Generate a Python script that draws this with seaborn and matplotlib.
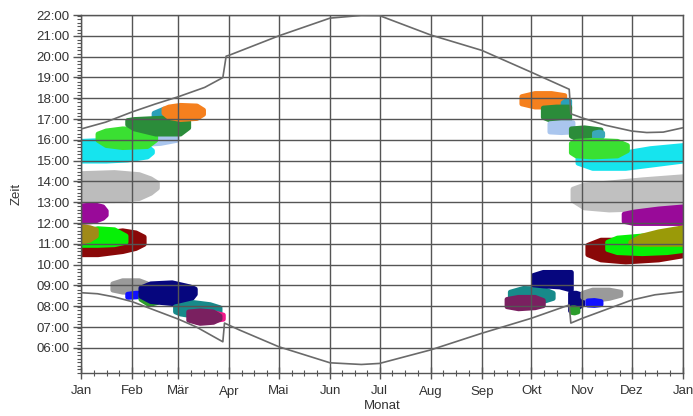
import matplotlib
matplotlib.use("Agg")
import matplotlib.pyplot as plt
import seaborn as sns
import pandas as pd

# ---------------- data ----------------
MONTH_LABELS = ["Jan", "Feb", "Mär", "Apr", "Mai", "Jun", "Jul", "Aug", "Sep",
                "Okt", "Nov", "Dez", "Jan"]
MONTH_DAYS = [0, 31, 59, 90, 120, 151, 181, 212, 243, 273, 304, 334, 365]
HOUR_TICKS = list(range(6, 23))

SUNSET_DAYS = [0, 15, 31, 45, 59, 75, 86, 88, 90, 120, 151, 170, 181, 212, 243,
               273, 296, 297, 304, 318, 334, 343, 353, 365]
SUNSET_HOURS = [16.52, 16.85, 17.34, 17.72, 18.07, 18.52, 18.99, 20.02, 20.07,
                21.0, 21.85, 21.98, 21.97, 21.04, 20.3, 19.25, 18.43, 17.25,
                17.05, 16.7, 16.42, 16.35, 16.37, 16.58]

SUNRISE_DAYS = [0, 10, 20, 31, 45, 59, 70, 86, 87, 96, 120, 151, 170, 181, 212,
                243, 273, 296, 297, 304, 334, 348, 365]
SUNRISE_HOURS = [8.65, 8.6, 8.45, 8.22, 7.8, 7.38, 7.0, 6.29, 7.19, 6.86, 6.05,
                 5.28, 5.2, 5.25, 5.9, 6.7, 7.42, 8.06, 7.19, 7.42, 8.3, 8.55,
                 8.7]

# shadow periods per receptor (drawn in this order)
BLOB_COLORS = [
    # left, afternoon
    "#16e4ee", "#aac6ee", "#3ae032", "#2aa0b8", "#2b8c3a", "#f5801e",
    # left, midday
    "#bcbcbc", "#990a99", "#8a0808", "#06f006", "#a08a18",
    # left, morning
    "#9a9a9a", "#1010ff", "#2c9c2c", "#06067e", "#178a8a", "#f0188a", "#7a2060",
    # right, afternoon
    "#16e4ee", "#f5801e", "#2aa0b8", "#2b8c3a", "#aac6ee", "#2b8c3a",
    "#3aa8b8", "#3ae032",
    # right, midday
    "#c0c0c0", "#990a99", "#8a0808", "#06f006", "#9a9a08",
    # right, morning
    "#178a8a", "#7a2060", "#06067e", "#06067e", "#9a9a9a", "#1010ff",
    "#2c9c2c",
]
BLOB_DAYS = [
    [0, 15, 28, 40, 43],
    [38, 48, 58],
    [10, 15, 25, 40, 45],
    [44, 50, 56],
    [28, 32, 45, 60, 65],
    [50, 53, 60, 70, 74],
    [0, 20, 35, 42, 46],
    [0, 8, 13, 15],
    [0, 10, 25, 33, 38],
    [0, 10, 20, 27],
    [0, 5, 9],
    [19, 25, 35, 40],
    [28, 33, 37],
    [36, 41, 46],
    [36, 42, 55, 66, 69],
    [57, 60, 68, 78, 84],
    [70, 78, 86],
    [65, 72, 80, 84],
    [301, 310, 330, 345, 365],
    [267, 275, 285, 293],
    [292, 294, 296],
    [280, 288, 296],
    [284, 291, 298],
    [297, 305, 315],
    [311, 314, 316],
    [297, 300, 310, 325, 331],
    [298, 305, 320, 340, 365],
    [329, 335, 350, 365],
    [307, 315, 330, 350, 365],
    [319, 325, 340, 355, 365],
    [333, 340, 350, 365],
    [260, 268, 280, 286],
    [258, 265, 275, 280],
    [274, 280, 290, 297],
    [296.5, 300, 304],
    [304, 310, 320, 327],
    [307, 311, 315],
    [297.5, 299, 301],
]
BLOB_LOW = [
    [15.0, 15.0, 15.05, 15.2, 15.4],
    [15.8, 15.85, 16.0],
    [16.0, 15.75, 15.65, 15.7, 16.0],
    [16.9, 16.9, 17.0],
    [16.75, 16.55, 16.3, 16.3, 16.6],
    [17.3, 17.1, 17.0, 17.05, 17.25],
    [13.1, 13.1, 13.2, 13.45, 13.7],
    [12.05, 12.1, 12.25, 12.4],
    [10.5, 10.5, 10.65, 10.8, 11.0],
    [10.95, 10.95, 10.98, 11.1],
    [11.1, 11.2, 11.4],
    [8.8, 8.7, 8.7, 8.8],
    [8.45, 8.47, 8.5],
    [8.35, 8.1, 8.2],
    [8.5, 8.25, 8.15, 8.3, 8.6],
    [7.75, 7.65, 7.55, 7.55, 7.7],
    [7.25, 7.3, 7.4],
    [7.35, 7.2, 7.25, 7.4],
    [14.9, 14.65, 14.65, 14.8, 15.0],
    [17.75, 17.6, 17.6, 17.7],
    [17.5, 17.5, 17.5],
    [17.1, 16.85, 16.8],
    [16.4, 16.37, 16.4],
    [16.2, 15.9, 15.95],
    [16.1, 16.1, 16.2],
    [15.4, 15.25, 15.2, 15.25, 15.5],
    [13.1, 12.75, 12.65, 12.7, 12.75],
    [12.1, 12.0, 12.0, 12.0],
    [10.5, 10.25, 10.15, 10.25, 10.45],
    [10.75, 10.6, 10.55, 10.6, 10.7],
    [11.05, 11.0, 11.0, 11.0],
    [8.35, 8.2, 8.25, 8.4],
    [8.0, 7.9, 7.95, 8.05],
    [9.05, 9.0, 8.95, 8.8],
    [7.8, 7.9, 8.1],
    [8.45, 8.3, 8.4, 8.55],
    [8.08, 8.06, 8.1],
    [7.72, 7.7, 7.75],
]
BLOB_HIGH = [
    [15.95, 16.0, 15.9, 15.7, 15.5],
    [16.3, 16.4, 16.4],
    [16.3, 16.45, 16.55, 16.5, 16.25],
    [17.3, 17.5, 17.5],
    [16.95, 17.0, 17.05, 17.1, 16.9],
    [17.5, 17.6, 17.68, 17.65, 17.45],
    [14.4, 14.45, 14.35, 14.15, 13.95],
    [12.85, 12.9, 12.8, 12.6],
    [11.5, 11.5, 11.65, 11.55, 11.35],
    [11.6, 11.75, 11.7, 11.4],
    [11.85, 11.8, 11.7],
    [9.1, 9.25, 9.25, 9.1],
    [8.6, 8.65, 8.65],
    [8.6, 8.6, 8.5],
    [8.9, 9.1, 9.15, 8.95, 8.85],
    [8.0, 8.05, 8.2, 8.1, 7.95],
    [7.65, 7.75, 7.6],
    [7.75, 7.8, 7.75, 7.55],
    [15.3, 15.3, 15.4, 15.6, 15.75],
    [18.1, 18.25, 18.25, 18.15],
    [17.8, 17.9, 17.9],
    [17.55, 17.6, 17.6],
    [16.8, 16.85, 16.85],
    [16.55, 16.6, 16.5],
    [16.35, 16.4, 16.35],
    [15.85, 15.95, 16.0, 15.95, 15.75],
    [13.65, 13.85, 13.95, 14.1, 14.25],
    [12.45, 12.55, 12.7, 12.8],
    [10.95, 11.2, 11.2, 11.1, 11.1],
    [11.1, 11.3, 11.4, 11.45, 11.45],
    [11.1, 11.4, 11.6, 11.8],
    [8.7, 8.88, 8.85, 8.65],
    [8.35, 8.45, 8.45, 8.3],
    [9.5, 9.65, 9.65, 9.65],
    [8.65, 8.65, 8.55],
    [8.65, 8.8, 8.8, 8.7],
    [8.28, 8.3, 8.25],
    [7.95, 7.95, 7.9],
]

# ---------------- drawing ----------------
sns.set_theme(style="white")
plt.rcParams["font.family"] = ["Liberation Sans", "DejaVu Sans"]

fig = plt.figure(figsize=(6.93, 4.16), dpi=100)
ax = fig.add_axes([81 / 693, 1 - 373 / 416, 602 / 693, 358 / 416])

for col, d, lo, hi in zip(BLOB_COLORS, BLOB_DAYS, BLOB_LOW, BLOB_HIGH):
    ax.fill_between(d, lo, hi, facecolor=col, edgecolor=col, linewidth=3.5,
                    joinstyle="round", zorder=1)

line_col = "#6a6a6a"
sns.lineplot(data=pd.DataFrame({"Tag": SUNSET_DAYS, "Zeit": SUNSET_HOURS}),
             x="Tag", y="Zeit", sort=False, estimator=None, color=line_col,
             lw=1.2, ax=ax, zorder=3)
sns.lineplot(data=pd.DataFrame({"Tag": SUNRISE_DAYS, "Zeit": SUNRISE_HOURS}),
             x="Tag", y="Zeit", sort=False, estimator=None, color=line_col,
             lw=1.2, ax=ax, zorder=3)

ax.set_xlim(0, 365)
ax.set_xticks(MONTH_DAYS)
ax.set_xticklabels(MONTH_LABELS)
ax.set_xticks([m + (MONTH_DAYS[i + 1] - m) * k / 4
               for i, m in enumerate(MONTH_DAYS[:-1]) for k in (1, 2, 3)],
              minor=True)
ax.set_yticks(HOUR_TICKS)
ax.set_yticklabels([f"{h:02d}:00" for h in HOUR_TICKS])
ax.set_yticks([4.8 + i / 6 for i in range(0, 104)], minor=True)
ax.set_ylim(4.79, 22)

ax.set_axisbelow(False)
ax.grid(True, which="major", color="#555555", lw=1.0)
ax.grid(False, which="minor")
for s in ax.spines.values():
    s.set_color("#555555")
    s.set_linewidth(1.0)

ax.tick_params(axis="y", which="major", direction="out", length=6, width=1,
               color="#555555", labelsize=9.5, labelcolor="#333333", pad=2,
               left=True)
ax.tick_params(axis="y", which="minor", direction="out", length=3, width=0.8,
               color="#555555", left=True)
ax.tick_params(axis="x", which="major", direction="inout", length=8, width=1,
               color="#555555", labelsize=9.5, labelcolor="#333333", pad=5,
               bottom=True)
ax.tick_params(axis="x", which="minor", direction="inout", length=5, width=0.8,
               color="#555555", bottom=True)

ax.set_xlabel("Monat", fontsize=9.5, color="#333333", labelpad=2)
ax.set_ylabel("Zeit", fontsize=9.5, color="#333333", labelpad=10)

fig.savefig("out.png", dpi=100)
